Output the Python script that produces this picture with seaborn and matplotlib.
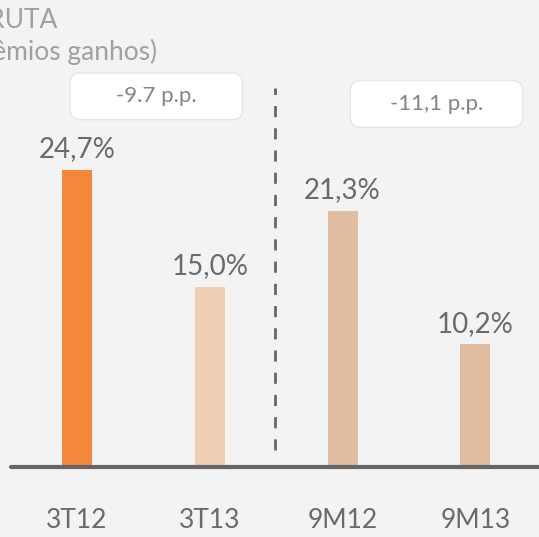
import numpy as np
import pandas as pd
import matplotlib
matplotlib.use("Agg")
import matplotlib.pyplot as plt
from matplotlib.patches import FancyBboxPatch
import seaborn as sns

# data
periods = ["3T12", "3T13", "9M12", "9M13"]
margin = [24.7, 15.0, 21.3, 10.2]
labels = ["24,7%", "15,0%", "21,3%", "10,2%"]
bar_colors = ["#F5873A", "#EFCEB6", "#E0BCA0", "#DFBB9F"]
deltas = ["-9.7 p.p.", "-11,1 p.p."]
title_lines = ["MARGEM BRUTA", "(% dos prêmios ganhos)"]

sns.set_style("white")
plt.rcParams["font.family"] = ["Lato", "DejaVu Sans"]

df = pd.DataFrame({"periodo": periods, "margem": margin})

fig = plt.figure(figsize=(5.39, 5.37), dpi=100)
fig.patch.set_facecolor("#F3F3F3")
ax = fig.add_axes([0, 0, 1, 1])
ax.set_facecolor("#F3F3F3")

sns.barplot(data=df, x="periodo", y="margem", hue="periodo",
            palette=bar_colors, width=0.226, saturation=1, linewidth=0,
            legend=False, ax=ax)

ax.set_xlim(-0.58, 3.48)
ax.set_ylim(-5.8, 38.8)
ax.axis("off")

# baseline
ax.axhline(0, xmin=0.02, xmax=1, color="#666666", lw=3, zorder=3)

# value labels
for i, (v, t) in enumerate(zip(margin, labels)):
    ax.text(i, v + 0.6, t, ha="center", va="bottom", fontsize=20,
            color="#6A6A6A")

# category labels
for i, p in enumerate(periods):
    ax.text(i, -4.4, p, ha="center", va="center", fontsize=19,
            color="#6A6A6A")

# dashed separator
ax.plot([1.49, 1.49], [1.4, 31.5], ls=(0, (4, 4)), color="#666666", lw=2)

# delta boxes
boxes = [(0.13, 0.777, 0.32, 0.087), (0.65, 0.763, 0.32, 0.087)]
for (bx, by, bw, bh), d in zip(boxes, deltas):
    patch = FancyBboxPatch((bx, by), bw, bh,
                           boxstyle="round,pad=0,rounding_size=0.02",
                           transform=ax.transAxes, facecolor="white",
                           edgecolor="#E6E6E6", lw=1, zorder=4)
    ax.add_patch(patch)
    ax.text(bx + bw / 2, by + bh / 2, d, transform=ax.transAxes,
            ha="center", va="center", fontsize=16, color="#858585",
            zorder=5)

# title, cropped on the left as in the source
fig.text(57 / 539, 1 - 20 / 537, title_lines[0], ha="right", va="center",
         fontsize=19, color="#A0A0A0")
fig.text(157 / 539, 1 - 52 / 537, title_lines[1], ha="right", va="center",
         fontsize=19, color="#A0A0A0")

fig.savefig("out.png", dpi=100, facecolor=fig.get_facecolor())
